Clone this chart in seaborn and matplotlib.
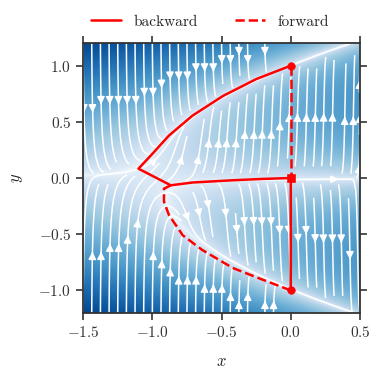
import numpy as np
import pandas as pd
import matplotlib
matplotlib.use("Agg")
import matplotlib.pyplot as plt
from matplotlib.colors import PowerNorm
from matplotlib.lines import Line2D
import seaborn as sns

# ---- model of the background vector field (imperfect pitchfork) ----
drift_x = 0.01        # slow drift of the parameter x
shift = 1.0           # r = x + shift
imperfection = 0.012  # h

x_limits = [-1.5, 0.5]
y_limits = [-1.2, 1.2]
x_ticks = [-1.5, -1.0, -0.5, 0.0, 0.5]
y_ticks = [-1.0, -0.5, 0.0, 0.5, 1.0]

# ---- continuation curves ----
backward_x = [0.0, -0.25, -0.49, -0.71, -0.88, -1.0, -1.1,
              -0.867, -0.71, -0.42, -0.2, 0.0, 0.0]
backward_y = [1.0, 0.88, 0.73, 0.555, 0.378, 0.215, 0.083,
              -0.065, -0.04, -0.02, -0.008, 0.0, -1.0]

forward_upper_x = [0.0, 0.0]
forward_upper_y = [1.0, 0.0]
forward_lower_x = [0.0, -0.203, -0.42, -0.64, -0.78, -0.88, -0.916, -0.916, -0.867]
forward_lower_y = [-1.0, -0.905, -0.80, -0.64, -0.51, -0.33, -0.21, -0.095, -0.065]

circle_x = [0.0, 0.0]
circle_y = [1.0, -1.0]
square_x = [0.0]
square_y = [0.0]

sns.set_theme(style="ticks")
plt.rcParams.update({
    "font.family": "serif",
    "font.serif": ["cmr10", "DejaVu Serif"],
    "mathtext.fontset": "cm",
    "axes.formatter.use_mathtext": True,
    "axes.unicode_minus": True,
    "font.size": 11,
    "axes.edgecolor": "#333333",
    "axes.linewidth": 1.3,
    "xtick.color": "#333333",
    "ytick.color": "#333333",
    "xtick.labelcolor": "#333333",
    "ytick.labelcolor": "#333333",
    "xtick.major.size": 5,
    "ytick.major.size": 5,
    "xtick.major.width": 1.2,
    "ytick.major.width": 1.2,
    "xtick.labelsize": 11,
    "ytick.labelsize": 11,
})

fig = plt.figure(figsize=(3.83, 3.82), dpi=100)
ax = fig.add_axes([0.217, 0.181, 0.723, 0.706])

# vector field
gx = np.linspace(x_limits[0], x_limits[1], 300)
gy = np.linspace(y_limits[0], y_limits[1], 300)
X, Y = np.meshgrid(gx, gy)
U = np.full_like(X, drift_x)
V = imperfection + (X + shift) * Y - Y ** 3
mag = np.abs(V)

ax.imshow(mag, extent=[x_limits[0], x_limits[1], y_limits[0], y_limits[1]],
          origin="lower", aspect="auto", cmap="Blues",
          norm=PowerNorm(gamma=0.35, vmin=0, vmax=3.0), interpolation="bilinear")
ax.streamplot(gx, gy, U, V, color="white", density=1.1, linewidth=1.1,
              arrowsize=1.1)

red = "#ff0000"
sns.lineplot(x=backward_x, y=backward_y, sort=False, estimator=None, ax=ax,
             color=red, linewidth=1.8)
sns.lineplot(x=forward_upper_x, y=forward_upper_y, sort=False, estimator=None, ax=ax,
             color=red, linewidth=1.8, linestyle="--")
sns.lineplot(x=forward_lower_x, y=forward_lower_y, sort=False, estimator=None, ax=ax,
             color=red, linewidth=1.8, linestyle="--")
sns.scatterplot(x=circle_x, y=circle_y, ax=ax, color=red, s=30, marker="o",
                edgecolor=red, zorder=5)
sns.scatterplot(x=square_x, y=square_y, ax=ax, color=red, s=30, marker="s",
                edgecolor=red, zorder=5)

ax.set_xlim(x_limits)
ax.set_ylim(y_limits)
ax.set_xticks(x_ticks)
ax.set_yticks(y_ticks)
ax.tick_params(top=True, right=True, direction="out")
ax.set_xlabel("$x$", fontsize=12, labelpad=10)
ax.set_ylabel("$y$", fontsize=12, labelpad=10)

handles = [Line2D([], [], color=red, lw=1.8, linestyle="-"),
           Line2D([], [], color=red, lw=1.8, linestyle="--")]
fig.legend(handles, ["backward", "forward"], loc="center",
           bbox_to_anchor=(0.548, 0.943), ncol=2, frameon=False,
           handlelength=2.0, columnspacing=2.4, fontsize=11)

fig.savefig("out.png", dpi=100)
